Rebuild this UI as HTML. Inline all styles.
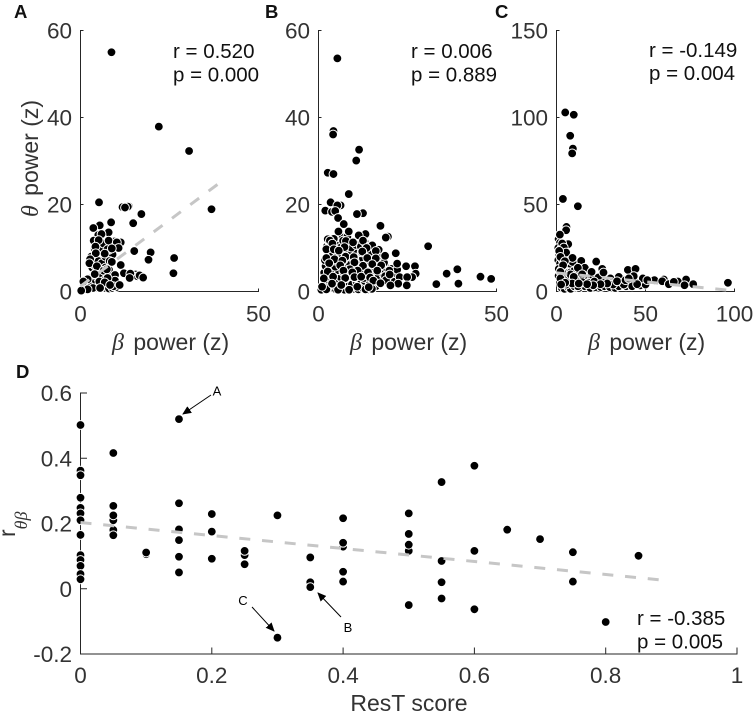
<!DOCTYPE html>
<html lang="en">
<head>
<meta charset="utf-8">
<title>Theta-beta power correlation panels</title>
<style>
  html, body { margin: 0; padding: 0; background: #fff; }
  svg { display: block; }
  text { font-family: "Liberation Sans", Arial, sans-serif; fill: #333; }
  .greek { font-family: "Liberation Serif", serif; font-style: italic; }
</style>
</head>
<body>
<svg id="chart" xmlns="http://www.w3.org/2000/svg" width="755" height="715" viewBox="0 0 755 715">
  <rect width="755" height="715" fill="#fff"/>
  <g id="plots"></g>

  <text x="14" y="18" font-size="18.5" font-weight="bold" style="fill:#111">A</text>
  <text x="265" y="18" font-size="18.5" font-weight="bold" style="fill:#111">B</text>
  <text x="495" y="18" font-size="18.5" font-weight="bold" style="fill:#111">C</text>
  <text x="16" y="378" font-size="18.5" font-weight="bold" style="fill:#111">D</text>

  <text x="173" y="58" font-size="20.5" style="fill:#111">r = 0.520</text>
  <text x="173" y="81.5" font-size="20.5" style="fill:#111">p = 0.000</text>
  <text x="411" y="58" font-size="20.5" style="fill:#111">r = 0.006</text>
  <text x="411" y="81.5" font-size="20.5" style="fill:#111">p = 0.889</text>
  <text x="649" y="57" font-size="20.5" style="fill:#111">r = -0.149</text>
  <text x="649" y="80" font-size="20.5" style="fill:#111">p = 0.004</text>
  <text x="637" y="625" font-size="20.5" style="fill:#111">r = -0.385</text>
  <text x="637" y="648.5" font-size="20.5" style="fill:#111">p = 0.005</text>

  <text x="112" y="350" font-size="23"><tspan class="greek" font-size="24">β</tspan><tspan dx="3"> power (z)</tspan></text>
  <text x="350" y="350" font-size="23"><tspan class="greek" font-size="24">β</tspan><tspan dx="3"> power (z)</tspan></text>
  <text x="588" y="350" font-size="23"><tspan class="greek" font-size="24">β</tspan><tspan dx="3"> power (z)</tspan></text>
  <text transform="translate(38,217) rotate(-90)" font-size="23"><tspan class="greek" font-size="24">θ</tspan><tspan dx="3"> power (z)</tspan></text>
  <text transform="translate(15,537) rotate(-90)" font-size="23">r<tspan class="greek" font-size="18" dy="12">θβ</tspan></text>
  <text x="409" y="711" font-size="23" text-anchor="middle">ResT score</text>

  <defs>
    <marker id="arrow-head" markerWidth="9" markerHeight="8" refX="8" refY="4" orient="auto" markerUnits="userSpaceOnUse">
      <path d="M0,0 L9,4 L0,8 Z" fill="#000"/>
    </marker>
  </defs>
  <text x="217" y="395.5" font-size="13" text-anchor="middle" style="fill:#000">A</text>
  <line x1="211" y1="395" x2="183" y2="414" stroke="#000" stroke-width="1" marker-end="url(#arrow-head)"/>
  <text x="243" y="605" font-size="13" text-anchor="middle" style="fill:#000">C</text>
  <line x1="252" y1="607" x2="274" y2="631" stroke="#000" stroke-width="1" marker-end="url(#arrow-head)"/>
  <text x="348" y="632" font-size="13" text-anchor="middle" style="fill:#000">B</text>
  <line x1="341" y1="617" x2="318" y2="593" stroke="#000" stroke-width="1" marker-end="url(#arrow-head)"/>
</svg>

<script>
const xTicksA = [0, 50];
const yTicksA = [0, 20, 40, 60];
const betaA = [1.5,2.8,4.2,5,6,7,8,9,10,3,
  4,5,6,7,7.5,8.5,9,3.3,4,5,
  6,7,8,3,4,5,6,6.5,5,7,
  9,10,13.6,15.5,11.8,16,9.5,8,2.2,1,
  8.7,22.0,30.5,36.8,5.2,13.3,12.5,17.1,14.8,8.6,5.4,3.6,7.9,5.9,3.7,5.1,7.9,11.3,10.2,4.2,10.7,7.6,8.8,4.3,6.8,15.1,19.7,19.1,26.3,26.1,2.7,2.5,8.2,8.8,11.3,4.6,6.5,7.4,4.0,12.2,14.0,13.8,16.6,17.6,9.7,9.7,7.6,5.3,6.8,2.0,0.8,3.5,2.0,5.5,9.3,8.3,11.0,0.2];
const thetaA = [1.2,1.5,0.8,1,1,0.8,0.7,0.8,1,3,
  2,3,3.5,2.8,4,2.5,3,5.5,6,7,
  6.5,5.5,5,8,9.8,9.5,10,11,13,8,
  8.5,10.2,19.6,3.9,19.4,3.5,11.5,9.6,1.5,0.9,
  55.0,37.9,32.3,18.9,20.5,19.5,19.3,17.8,15.7,15.9,15.2,14.6,13.6,13.2,11.7,11.8,11.7,11.3,11.3,10.3,10.0,9.7,9.9,8.8,8.7,9.3,9.0,7.3,7.7,4.2,7.4,6.5,7.0,6.8,6.1,5.8,4.8,5.1,4.0,4.2,4.1,3.1,3.7,3.2,3.8,2.5,3.1,2.3,2.1,2.8,2.3,0.8,0.5,0.8,1.2,1.5,1.5,0.2];
const fitBetaA = [0, 38.8];
const fitThetaA = [1.2, 24.8];

const xTicksB = [0, 50];
const yTicksB = [0, 20, 40, 60];
const betaB = [1.2,2.4,3.6,4.9,6.1,7.3,8.6,9.8,11.2,12.4,
  13.6,14.8,16.1,1.9,3.1,4.4,5.8,7.0,8.1,9.4,
  10.7,11.9,13.0,14.4,15.8,17.1,18.3,19.6,21.0,2.3,
  3.5,4.8,6.2,7.5,8.9,10.2,11.5,12.8,14.1,15.4,
  16.9,18.2,19.6,20.9,1.6,2.9,4.2,5.6,7.0,8.3,
  9.6,10.9,12.3,13.6,15.0,16.4,17.7,19.0,20.6,22.1,
  2.0,3.4,4.7,6.0,7.4,8.8,10.1,11.4,12.8,14.3,
  15.7,17.0,18.4,1.8,3.1,4.4,5.8,7.1,8.4,9.8,
  11.1,12.5,13.9,15.3,16.6,2.7,4.0,5.3,6.6,8.0,
  9.4,10.7,12.1,13.4,14.8,2.4,3.6,5.0,6.4,7.8,
  9.2,10.6,11.9,13.3,14.6,2.9,4.3,6.8,8.1,12.7,
  5.3,4.2,4.1,11.4,10.6,2.6,4.2,8.5,3.4,6.2,5.3,1.9,3.8,4.7,12.5,10.8,5.5,17.4,7.1,5.6,8.5,13.2,11.3,19.5,18.9,2.6,3.2,3.9,12.5,6.9,7.7,9.7,15.1,7.3,30.8,2.2,4.3,5.7,13.5,16.9,16.1,21.7,12.3,18.7,2.2,4.5,7.6,9.9,13.7,16.1,6.7,10.1,3.0,15.1,22.1,17.6,12.5,6.1,24.6,27.1,8.8,19.9,39.0,36.0,45.5,48.5,2.6,11.0,13.9,16.5,27.3,26.3,18.7,22.8,24.9,0.8,2.2,5.5,8.6,13.2,15.0,19.0,7.0,9.5,14.5,20.0,4.1,7.5,10.1,12.0,15.4,1.5,22.4,20.2,24.8,33.1,39.3,6.4,10.9,3.8,1.0,14.1,17.4];
const thetaB = [0.5,0.4,0.9,0.5,0.8,0.4,0.9,0.6,0.5,0.8,
  0.4,0.9,1.2,1.6,1.9,1.5,2.1,1.7,2.3,1.6,
  2.2,1.8,2.4,1.9,2.3,2.7,2.4,2.9,2.6,2.8,
  3.1,2.9,3.3,3.0,3.6,3.2,3.8,3.1,3.5,3.9,
  3.4,4.0,3.6,4.2,4.3,4.6,4.2,4.9,4.4,5.0,
  4.5,5.2,4.6,5.4,4.9,5.6,5.0,5.5,5.2,5.0,
  5.8,6.1,5.7,6.4,5.9,6.5,6.0,6.7,6.2,6.9,
  6.5,7.0,6.6,7.2,7.6,7.1,7.9,7.3,8.1,7.5,
  8.2,7.6,8.4,7.9,8.6,8.9,8.4,9.0,8.6,9.2,
  8.8,9.4,9.0,9.7,9.2,10.4,10.0,10.6,10.2,10.8,
  10.1,10.7,10.3,11.0,10.5,11.6,12.1,12.4,12.6,12.6,
  53.6,36.9,36.1,32.6,30.1,27.3,27.0,22.4,20.5,19.8,19.8,18.6,18.3,18.5,18.0,17.8,16.9,15.1,15.5,13.8,13.8,13.2,12.9,12.6,12.4,12.0,11.7,11.0,11.7,11.7,11.6,11.3,10.6,10.2,10.4,9.7,9.7,9.4,10.0,9.6,9.3,8.8,9.2,8.2,7.7,7.4,8.0,7.9,7.7,7.6,7.1,6.7,6.5,6.3,6.4,6.0,5.9,6.0,5.8,5.8,5.1,4.8,5.1,4.1,3.4,2.9,4.6,4.8,4.4,4.8,4.1,3.3,3.5,3.3,3.3,0.4,0.5,0.4,0.4,0.5,0.6,2.6,4.8,4.4,3.2,3.9,3.4,3.1,3.3,3.4,2.5,3.0,1.8,1.4,1.4,1.7,1.8,1.5,1.1,1.8,1.1,1.0,1.9];

const xTicksC = [0, 50, 100];
const yTicksC = [0, 50, 100, 150];
const betaC = [1.2,2,1,2.8,1.5,3,1,2,3.5,1.3,
  2.5,1.2,3,4.5,5.5,7,6.5,8,4,6,
  3,4.5,6.5,8,10,11,12.5,14,16,17.5,
  19,20,22,23.5,25,27,28,30,32,33,
  35,36.5,39,41,42.5,44,46,47,49,50,
  10,13,15.5,18,7.5,9.5,5.5,12,6,9,
  4.9,9.7,7.7,9.2,8.8,3.6,12.0,5.6,5.4,1.9,6.6,3.2,4.1,5.4,1.5,2.2,9.0,13.9,22.3,4.7,3.7,25.7,26.4,40.1,44.4,15.9,12.0,19.7,2.2,7.9,14.4,9.7,35.0,43.4,2.2,30.3,48.5,55.0,60.3,72.8,68.2,59.4,76.8,71.9,96.3,63.1,21.2,14.4,8.8,4.9,2.6,37.8,31.8,45.3,28.5,24.7,20.6,17.2,12.5,34.0,38.8,51.0,65.9,40.6];
const thetaC = [30,28,25,25,21,21,18,16,18,13,
  12,9,9,12,13,11,8,11,7,6,
  2,1.5,2.5,1.5,3,7,2,7,3,8,
  2,8,2.5,8,2.5,3,7,2.5,7,2,
  3,7,3,8,3,8.5,5,3.5,6,4,
  12,11,12,5,16,5.5,4,3,22,17,
  102.9,101.6,89.5,82.1,79.4,53.2,49.0,37.1,35.2,32.7,27.2,27.6,25.3,22.4,23.3,19.9,19.3,17.6,17.2,17.4,15.1,13.0,10.9,12.4,13.0,13.6,13.6,11.3,11.3,9.8,9.9,8.4,8.4,8.8,7.5,7.5,7.5,6.5,6.9,6.9,5.7,5.9,4.2,3.6,5.0,4.2,5.7,5.4,4.6,5.0,4.0,4.0,4.0,4.2,4.6,4.2,3.6,4.2,4.6,5.9,6.5,6.5,5.5,7.5];
const fitBetaC = [0, 95.9];
const fitThetaC = [10.7, 0.8];

const xTicksD = [0, 0.2, 0.4, 0.6, 0.8, 1];
const yTicksD = [-0.2, 0, 0.2, 0.4, 0.6];
const restScore = [0,0,0,0,0,0,0,0,0,0,0,0,0,0.05,0.05,0.05,0.05,0.05,0.05,0.1,0.1,0.15,0.15,0.15,0.15,0.15,0.15,0.2,0.2,0.2,0.25,0.25,0.25,0.3,0.3,0.35,0.35,0.35,0.4,0.4,0.4,0.4,0.4,0.5,0.5,0.5,0.5,0.5,0.55,0.55,0.55,0.55,0.6,0.6,0.6,0.65,0.7,0.75,0.75,0.8,0.85];
const rThetaBeta = [0.502,0.362,0.348,0.279,0.248,0.231,0.21,0.165,0.103,0.088,0.07,0.045,0.029,0.416,0.254,0.21,0.225,0.18,0.164,0.106,0.111,0.52,0.262,0.182,0.149,0.098,0.05,0.229,0.175,0.092,0.103,0.116,0.075,0.225,-0.15,0.096,0.02,0.005,0.216,0.129,0.141,0.052,0.022,0.231,0.168,0.116,0.135,-0.05,0.327,0.085,0.02,-0.03,0.377,0.116,-0.063,0.181,0.152,0.112,0.022,-0.102,0.101];
const fitRest = [0, 0.884];
const fitR = [0.203, 0.027];

const SVG_NS = 'http://www.w3.org/2000/svg';
const plots = document.getElementById('plots');

function makeScale(d0, d1, p0, p1) {
  return function (v) { return p0 + (v - d0) / (d1 - d0) * (p1 - p0); };
}

function drawLine(parent, x1, y1, x2, y2, stroke, width) {
  const l = document.createElementNS(SVG_NS, 'line');
  l.setAttribute('x1', x1);
  l.setAttribute('y1', y1);
  l.setAttribute('x2', x2);
  l.setAttribute('y2', y2);
  l.setAttribute('stroke', stroke);
  l.setAttribute('stroke-width', width);
  parent.appendChild(l);
  return l;
}

function drawPanel(opts) {
  const g = document.createElementNS(SVG_NS, 'g');
  
  
  plots.appendChild(g);

  const sx = makeScale(opts.xDomain[0], opts.xDomain[1], opts.left, opts.right);
  const sy = makeScale(opts.yDomain[0], opts.yDomain[1], opts.bottom, opts.top);
  const axisColor = '#262626';

  const xAxis = drawLine(g, opts.left - 0.5, opts.bottom, opts.right + 0.5, opts.bottom, axisColor, 1);
  
  
  const yAxis = drawLine(g, opts.left, opts.bottom + 0.5, opts.left, opts.top - 0.5, axisColor, 1);
  
  

  opts.xTicks.forEach(function (t) {
    const x = sx(t);
    const tick = drawLine(g, x, opts.bottom, x, opts.bottom - opts.tickLen, axisColor, 1);
    
    
    const label = document.createElementNS(SVG_NS, 'text');
    
    
    label.setAttribute('x', x);
    label.setAttribute('y', opts.bottom + opts.xLabelGap);
    label.setAttribute('font-size', '22.5');
    label.setAttribute('text-anchor', 'middle');
    label.textContent = String(t);
    g.appendChild(label);
  });

  opts.yTicks.forEach(function (t) {
    const y = sy(t);
    const tick = drawLine(g, opts.left, y, opts.left + opts.tickLen, y, axisColor, 1);
    
    
    const label = document.createElementNS(SVG_NS, 'text');
    
    
    label.setAttribute('x', opts.left - 8.5);
    label.setAttribute('y', y + 8);
    label.setAttribute('font-size', '22.5');
    label.setAttribute('text-anchor', 'end');
    label.textContent = String(t);
    g.appendChild(label);
  });

  opts.xs.forEach(function (v, i) {
    const c = document.createElementNS(SVG_NS, 'circle');
    
    
    c.setAttribute('cx', sx(v));
    c.setAttribute('cy', sy(opts.ys[i]));
    c.setAttribute('r', '4.4');
    c.setAttribute('fill', '#000');
    c.setAttribute('stroke', '#fff');
    c.setAttribute('stroke-width', '1');
    g.appendChild(c);
  });

  if (opts.fitX) {
    const fit = drawLine(g, sx(opts.fitX[0]), sy(opts.fitY[0]), sx(opts.fitX[1]), sy(opts.fitY[1]), '#c6c6c6', 3);
    fit.setAttribute('stroke-dasharray', '11 11.8');
    
    
  }
}

drawPanel({ id: 'a', left: 80.5, right: 258.5, top: 30.5, bottom: 291.5, tickLen: 3, xLabelGap: 30,
  xDomain: [0, 50], yDomain: [0, 60], xTicks: xTicksA, yTicks: yTicksA,
  xs: betaA, ys: thetaA, fitX: fitBetaA, fitY: fitThetaA });
drawPanel({ id: 'b', left: 318.5, right: 496.5, top: 30.5, bottom: 291.5, tickLen: 3, xLabelGap: 30,
  xDomain: [0, 50], yDomain: [0, 60], xTicks: xTicksB, yTicks: yTicksB,
  xs: betaB, ys: thetaB });
drawPanel({ id: 'c', left: 556.5, right: 734.5, top: 30.5, bottom: 291.5, tickLen: 3, xLabelGap: 30,
  xDomain: [0, 100], yDomain: [0, 150], xTicks: xTicksC, yTicks: yTicksC,
  xs: betaC, ys: thetaC, fitX: fitBetaC, fitY: fitThetaC });
drawPanel({ id: 'd', left: 80.5, right: 737, top: 393, bottom: 654, tickLen: 6.5, xLabelGap: 29,
  xDomain: [0, 1], yDomain: [-0.2, 0.6], xTicks: xTicksD, yTicks: yTicksD,
  xs: restScore, ys: rThetaBeta, fitX: fitRest, fitY: fitR });
</script>
</body>
</html>
